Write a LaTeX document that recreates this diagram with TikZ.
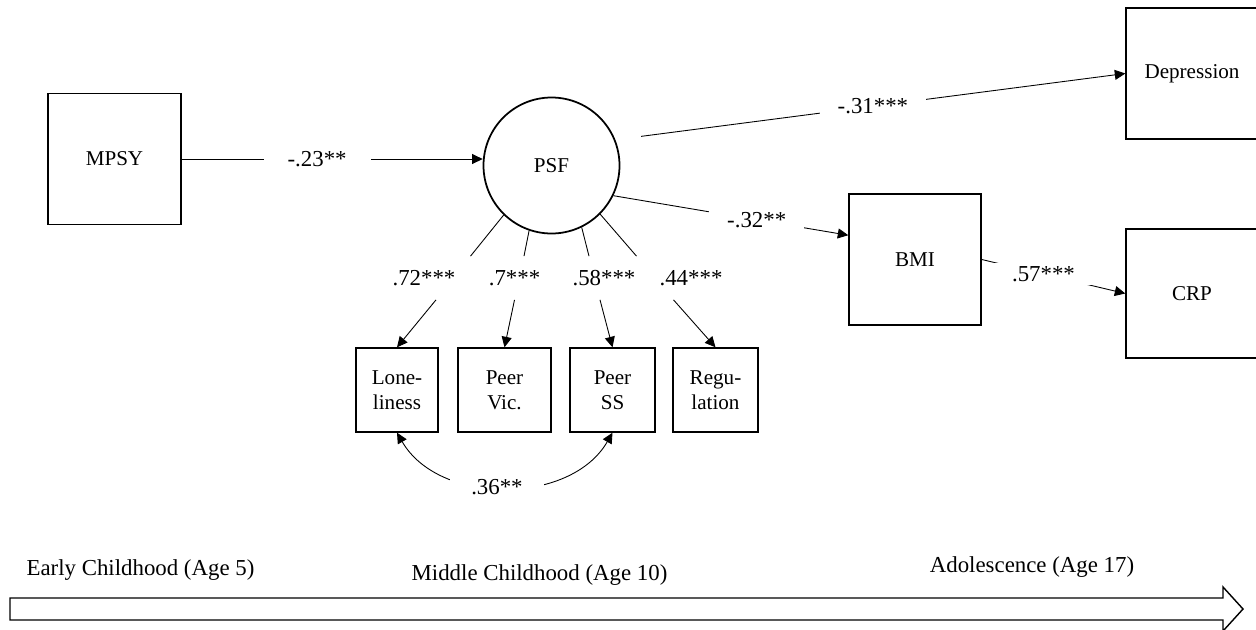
\documentclass[tikz,border=0pt]{standalone}
\usepackage{fontspec}
\setmainfont{Liberation Serif}
\usetikzlibrary{arrows.meta}
\tikzset{
	every node/.style={font=\fontsize{12pt}{14.5pt}\selectfont},
	var/.style={draw, line width=0.8pt, minimum width=2.64cm, minimum height=2.62cm, inner sep=0pt},
	ind/.style={draw, line width=0.8pt, minimum width=1.70cm, minimum height=1.68cm, inner sep=0pt, align=center},
	latent/.style={draw, circle, line width=1pt, minimum size=2.72cm, inner sep=0pt},
	coef/.style={fill=white, inner xsep=0.36cm, inner ysep=2pt, font=\fontsize{13pt}{15.5pt}\selectfont},
	load/.style={minimum height=0.86cm, inner sep=0pt, font=\fontsize{13pt}{15.5pt}\selectfont},
	stage/.style={font=\fontsize{13pt}{15.5pt}\selectfont},
	link/.style={line width=0.5pt},
	effect/.style={line width=0.5pt, -{Triangle[length=2.1mm,width=2mm]}},
	cov/.style={line width=0.5pt, {Triangle[length=2.1mm,width=2mm]}-{Triangle[length=2.1mm,width=2mm]}}
}

\begin{document}
\begin{tikzpicture}
		%%%%% START %%%%%
		\useasboundingbox (0,0) rectangle (25.12,-12.58);
		
		\node[var, minimum width=2.66cm] (MPSY) at (2.29,-3.18) {MPSY};
		\node[latent] (PSF) at (11.03,-3.31) {PSF};
		\node[var] (Dep) at (23.84,-1.47) {Depression};
		\node[var] (BMI) at (18.30,-5.19) {BMI};
		\node[var, minimum height=2.58cm] (CRP) at (23.84,-5.87) {CRP};
		
		\node[ind, minimum width=1.64cm] (Lone) at (7.94,-7.80) {Lone-\\liness};
		\node[ind, minimum width=1.86cm] (Vic) at (10.09,-7.80) {Peer\\Vic.};
		\node[ind] (SS) at (12.25,-7.80) {Peer\\SS};
		\node[ind] (Reg) at (14.31,-7.80) {Regu-\\lation};
		
		\node[load] (l72) at (8.48,-5.56) {.72***};
		\node[load] (l70) at (10.29,-5.56) {.7***};
		\node[load] (l58) at (12.08,-5.56) {.58***};
		\node[load] (l44) at (13.82,-5.56) {.44***};
		
		\draw[effect] (MPSY.east) -- node[coef, pos=.45, inner xsep=0.48cm] {-.23**} (MPSY.east -| PSF.west);
		\draw[effect, shorten <=0.52cm] (PSF.22) -- node[coef, pos=.505] {-.31***} (Dep.west);
		\draw[effect] (PSF.-26) -- node[coef, pos=.61] {-.32**} (BMI.160);
		\draw[effect] (BMI.east) -- node[coef, pos=.43, inner xsep=0.4cm] {.57***} (CRP.west);
		
		\draw[link] (PSF.226) -- ([xshift=0.93cm]l72.north);
		\draw[effect] ([xshift=0.24cm]l72.south) -- (Lone.north);
		\draw[link] (PSF.251) -- ([xshift=0.19cm]l70.north);
		\draw[effect] (l70.south) -- (Vic.north);
		\draw[link] (PSF.296) -- ([xshift=-0.30cm]l58.north);
		\draw[effect] ([xshift=-0.08cm]l58.south) -- (SS.north);
		\draw[link] (PSF.315) -- ([xshift=-1.09cm]l44.north);
		\draw[effect] ([xshift=-0.35cm]l44.south) -- (Reg.north);
		
		\draw[cov] (Lone.south) to[out=-60, in=-120] node[coef, pos=.47, inner xsep=0.42cm] {.36**} (SS.south);
		
		\node[stage] (early) at (2.81,-11.41) {Early Childhood (Age 5)};
		\node[stage] (middle) at (10.79,-11.51) {Middle Childhood (Age 10)};
		\node[stage] (adol) at (20.64,-11.35) {Adolescence (Age 17)};
		
		\draw[line width=0.8pt] (0.2,-11.96) -- (24.46,-11.96) -- (24.46,-11.74) -- (24.86,-12.18)
			-- (24.46,-12.62) -- (24.46,-12.40) -- (0.2,-12.40) -- cycle;
		
		%%%%% END %%%%%
	\end{tikzpicture}
\end{document}
